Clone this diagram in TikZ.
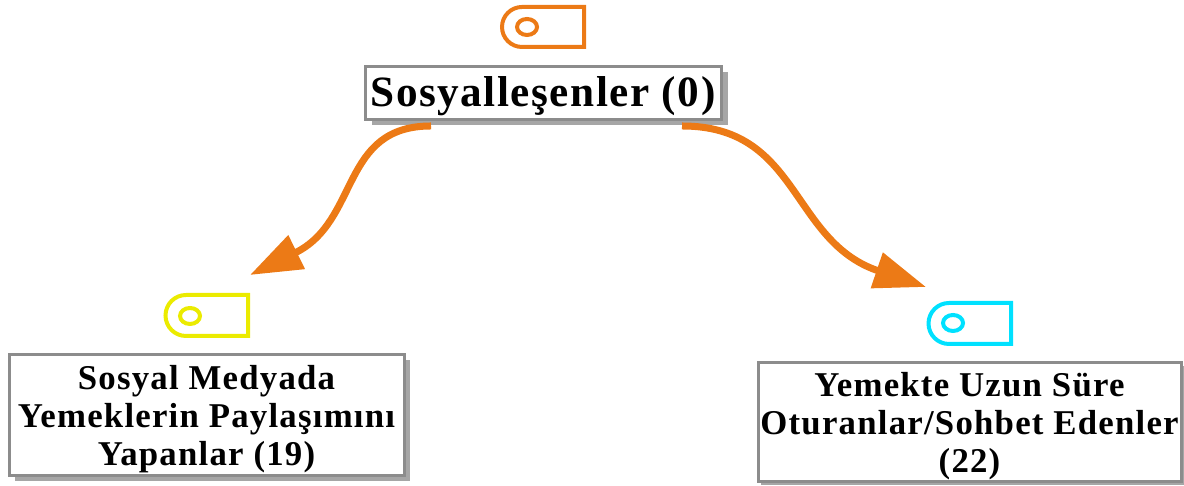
\documentclass[tikz,border=0pt]{standalone}
\usepackage{fontspec}
\setmainfont{Liberation Serif}[LetterSpace=3.5]
\usepackage{tikz}
\usetikzlibrary{arrows.meta,shadows}
\definecolor{tagorange}{RGB}{236,122,22}
\definecolor{tagyellow}{RGB}{235,235,0}
\definecolor{tagcyan}{RGB}{0,225,255}
\tikzset{
	clusterbox/.style={draw=gray!90, line width=0.03cm, fill=white, inner sep=0pt, align=center, font=\fontsize{9.9}{10.8}\selectfont\bfseries},
	tagline/.style={line width=0.04cm, line join=miter},
	flowarrow/.style={tagorange, line width=0.07cm, -{Triangle[length=0.52cm,width=0.36cm]}}
}

\begin{document}
\begin{tikzpicture}
	\useasboundingbox (0,0) rectangle (11.84,4.86);

	\node[clusterbox, font=\fontsize{12.3}{13}\selectfont\bfseries, minimum width=3.56cm, minimum height=0.53cm, drop shadow={shadow xshift=0.07cm, shadow yshift=-0.06cm, fill=gray!70, opacity=1}] (sosyal) at (5.43,3.93) {\rule{0pt}{10.2pt}Sosyalleşenler (0)};
	\node[clusterbox, minimum width=3.95cm, minimum height=1.21cm, drop shadow={shadow xshift=0.06cm, shadow yshift=-0.05cm, fill=gray!70, opacity=1}] (medya) at (2.065,0.705) {\rule{0pt}{8.7pt}Sosyal Medyada\\Yemeklerin Paylaşımını\\Yapanlar (19)};
	\node[clusterbox, minimum width=4.23cm, minimum height=1.19cm, drop shadow={shadow xshift=0.03cm, shadow yshift=-0.03cm, fill=gray!70, opacity=1}] (yemek) at (9.695,0.635) {\rule{0pt}{8.7pt}Yemekte Uzun Süre\\Oturanlar/Sohbet Edenler\\(22)};

	\draw[tagline, tagorange] (5.84,4.79) -- (5.84,4.39) -- (5.22,4.39) arc (-90:-270:0.2) -- cycle;
	\draw[tagline, tagorange] (5.27,4.59) ellipse (0.1 and 0.08);

	\draw[tagline, tagyellow] (2.48,1.91) -- (2.48,1.50) -- (1.86,1.50) arc (-90:-270:0.205) -- cycle;
	\draw[tagline, tagyellow] (1.90,1.70) ellipse (0.1 and 0.08);

	\draw[tagline, tagcyan] (10.11,1.83) -- (10.11,1.42) -- (9.49,1.42) arc (-90:-270:0.205) -- cycle;
	\draw[tagline, tagcyan] (9.53,1.63) ellipse (0.1 and 0.08);

	\coordinate (medyaout) at (4.31,3.60);
	\coordinate (medyatip) at (2.50,2.11);
	\coordinate (yemekout) at (6.82,3.60);
	\coordinate (yemektip) at (9.26,1.99);

	\draw[flowarrow] (medyaout) .. controls (3.40,3.60) and (3.60,2.65) .. (medyatip);
	\draw[flowarrow] (yemekout) .. controls (8.00,3.60) and (7.90,2.45) .. (yemektip);
\end{tikzpicture}
\end{document}
